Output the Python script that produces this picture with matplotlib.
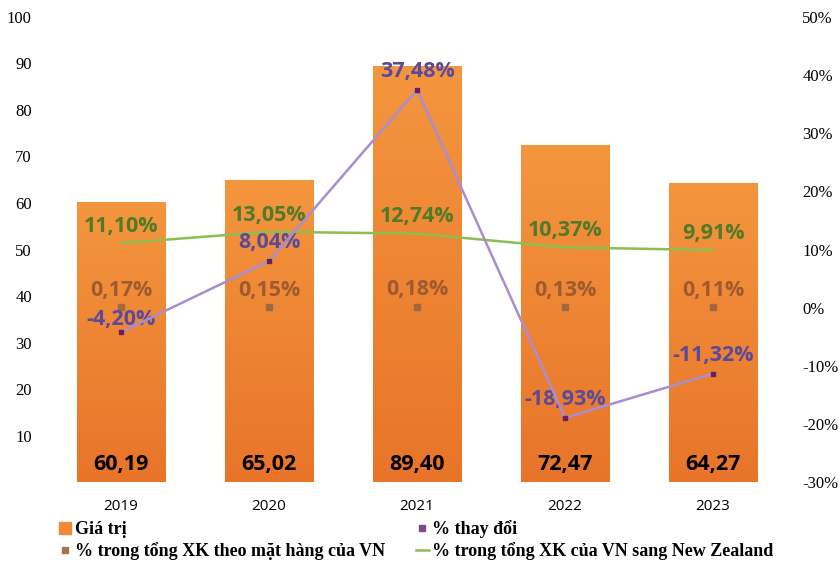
import matplotlib
matplotlib.use("Agg")
import matplotlib.pyplot as plt
import numpy as np
from matplotlib.colors import LinearSegmentedColormap
from matplotlib.lines import Line2D

years = ["2019", "2020", "2021", "2022", "2023"]
gia_tri = [60.19, 65.02, 89.40, 72.47, 64.27]
thay_doi = [-4.20, 8.04, 37.48, -18.93, -11.32]
ty_trong_mat_hang = [0.17, 0.15, 0.18, 0.13, 0.11]
ty_trong_nz = [11.10, 13.05, 12.74, 10.37, 9.91]

left_ticks = [10, 20, 30, 40, 50, 60, 70, 80, 90, 100]
right_ticks = [-30, -20, -10, 0, 10, 20, 30, 40, 50]


def fmt(v, pct=True):
    s = f"{v:.2f}".replace(".", ",")
    return s + "%" if pct else s


serif = "Liberation Serif"
sans = "Open Sans"

fig = plt.figure(figsize=(8.4, 5.62), dpi=100)
ax = fig.add_axes([0.056, 0.142, 0.881, 0.828])
ax2 = ax.twinx()

x = np.arange(len(years))
bars = ax.bar(x, gia_tri, width=0.595, color="#EF8530", zorder=1)
grad = LinearSegmentedColormap.from_list("g", ["#E8742A", "#F4963E"])
for b in bars:
    x0, h = b.get_x(), b.get_height()
    im = ax.imshow(np.linspace(0, 1, 256).reshape(-1, 1), cmap=grad, origin="lower",
                   aspect="auto", extent=[x0, x0 + b.get_width(), 0, h], zorder=1)
    im.set_clip_path(b)
    b.set_facecolor("none")

ax.set_xlim(-0.5, len(years) - 0.5)
ax.set_ylim(0, 100)
ax.set_yticks(left_ticks)
ax.set_yticklabels([str(t) for t in left_ticks], fontfamily=serif, fontsize=12)
ax.set_xticks(x)
ax.set_xticklabels(years, fontfamily=sans, fontsize=11)
ax.tick_params(axis="y", length=0, pad=11)
ax.tick_params(axis="x", length=0, pad=12)

ax2.set_ylim(-30, 50)
ax2.set_yticks(right_ticks)
ax2.set_yticklabels([f"{t}%" for t in right_ticks], fontfamily=serif, fontsize=12)
ax2.tick_params(axis="y", length=0, pad=11)

for a in (ax, ax2):
    for s in a.spines.values():
        s.set_visible(False)

# lines on right axis
ax2.plot(x, ty_trong_nz, color="#8DBE50", lw=1.8, zorder=3)
ax2.plot(x, thay_doi, color="#A98DD2", lw=1.8, marker="s", markersize=3.5,
         markerfacecolor="#6A1F5E", markeredgecolor="#6A1F5E", zorder=4)
ax2.plot(x, ty_trong_mat_hang, ls="none", marker="s", markersize=4.5,
         markerfacecolor="#A0683E", markeredgecolor="#A0683E", zorder=3)

lbl = dict(fontfamily=sans, fontweight="bold", fontsize=15.5, ha="center", va="center",
           textcoords="offset points")
for i in x:
    ax2.annotate(fmt(ty_trong_nz[i]), (i, ty_trong_nz[i]), xytext=(0, 12), color="#4F7A28", **lbl)
    ax2.annotate(fmt(ty_trong_mat_hang[i]), (i, ty_trong_mat_hang[i]), xytext=(0, 12),
                 color="#9E5A30", **lbl)
    off = 9 if i == 0 else 13
    ax2.annotate(fmt(thay_doi[i]), (i, thay_doi[i]), xytext=(0, off), color="#5B4A9B", **lbl)
    ax.text(i, 3.8, fmt(gia_tri[i], False), fontfamily=sans, fontweight="bold", fontsize=15.5,
            ha="center", va="center", color="black", zorder=5)

handles = [
    Line2D([], [], ls="none", marker="s", markersize=8, color="#EE8A3A"),
    Line2D([], [], ls="none", marker="s", markersize=4, color="#A8734A"),
    Line2D([], [], ls="none", marker="s", markersize=4, color="#7A4A8E"),
    Line2D([], [], color="#8DBE50", lw=1.8),
]
labels = ["Giá trị", "% trong tổng XK theo mặt hàng của VN", "% thay đổi",
          "% trong tổng XK của VN sang New Zealand"]
fig.legend(handles, labels, ncol=2, loc="upper left", bbox_to_anchor=(0.070, 0.074),
           frameon=False, handlelength=0.7, handletextpad=0.2, columnspacing=1.7,
           labelspacing=0.2, borderpad=0, borderaxespad=0,
           prop=dict(family=serif, weight="bold", size=13))

fig.savefig("out.png", dpi=100)
